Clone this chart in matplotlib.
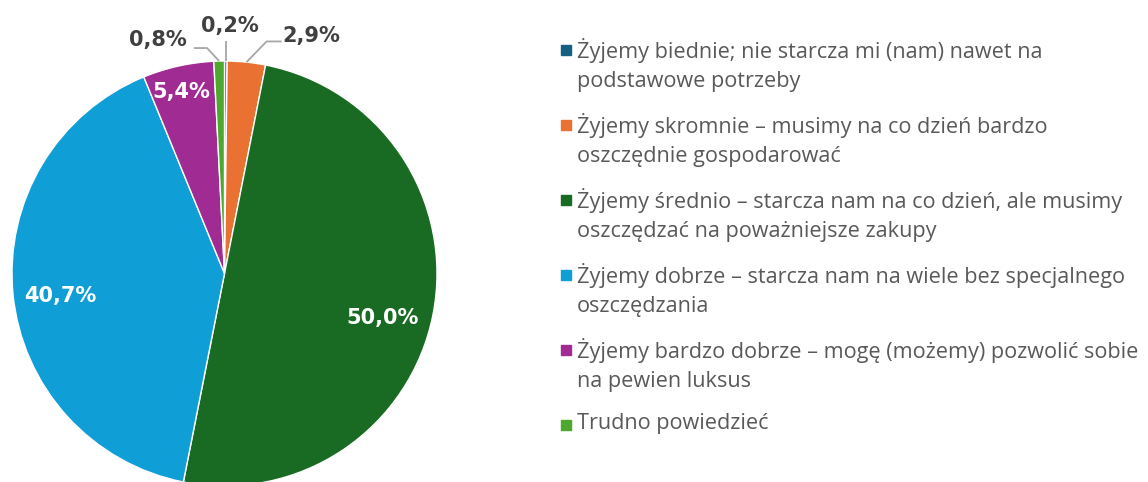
import numpy as np
import matplotlib
matplotlib.use('Agg')
import matplotlib.pyplot as plt
from matplotlib.patches import Rectangle

labels = [
    'Żyjemy biednie; nie starcza mi (nam) nawet na\npodstawowe potrzeby',
    'Żyjemy skromnie – musimy na co dzień bardzo\noszczędnie gospodarować',
    'Żyjemy średnio – starcza nam na co dzień, ale musimy\noszczędzać na poważniejsze zakupy',
    'Żyjemy dobrze – starcza nam na wiele bez specjalnego\noszczędzania',
    'Żyjemy bardzo dobrze – mogę (możemy) pozwolić sobie\nna pewien luksus',
    'Trudno powiedzieć',
]
values = [0.2, 2.9, 50.0, 40.7, 5.4, 0.8]
colors = ['#156082', '#E97132', '#196B24', '#0F9ED5', '#A02B93', '#4EA72E']

fig = plt.figure(figsize=(11.48, 4.82), dpi=100)
ax = fig.add_axes([12 / 1148, (482 - 486) / 482, 425 / 1148, 425 / 482])

wedges, _ = ax.pie(values, colors=colors, startangle=90, counterclock=False,
                   wedgeprops=dict(edgecolor='white', linewidth=1))
ax.set_xlim(-1, 1)
ax.set_ylim(-1, 1)
ax.set_aspect('equal')
ax.axis('off')


def fmt(v):
    return f'{v:.1f}%'.replace('.', ',')


# inside label positions (data coords of the unit pie)
inside = {2: (0.746, -0.209), 3: (-0.774, -0.106), 4: (-0.205, 0.854)}
# outside labels: (elbow, line end, text position, ha)
outside = {
    0: (None, (0.008, 1.094), (0.024, 1.165), 'center'),
    1: ((0.198, 1.092), (0.269, 1.092), (0.272, 1.118), 'left'),
    5: ((-0.082, 1.061), (-0.144, 1.061), (-0.180, 1.099), 'right'),
}

for i, w in enumerate(wedges):
    mid = np.deg2rad((w.theta1 + w.theta2) / 2)
    if i in inside:
        x, y = inside[i]
        ax.text(x, y, fmt(values[i]),
                ha='center', va='center', color='white',
                fontsize=15, fontweight='bold', family='DejaVu Sans')
    else:
        elbow, end, tpos, ha = outside[i]
        start = (np.cos(mid), np.sin(mid))
        if elbow is None:
            pts = [start, (start[0], end[1])]
        else:
            pts = [start, elbow, end]
        xs, ys = zip(*pts)
        ax.plot(xs, ys, color='#A6A6A6', lw=1.3, clip_on=False,
                solid_capstyle='butt')
        ax.text(tpos[0], tpos[1], fmt(values[i]), ha=ha, va='center',
                color='#404040', fontsize=15, fontweight='bold',
                family='DejaVu Sans', clip_on=False)

# legend
W, H = 1148, 482
y0 = 50
step = 75
for i, (lab, c) in enumerate(zip(labels, colors)):
    yc = y0 + i * step
    fig.patches.append(Rectangle((561 / W, 1 - (yc + 5) / H), 10 / W, 10 / H,
                                 transform=fig.transFigure, color=c))
    fig.text(577 / W, 1 - (yc - 12) / H, lab, ha='left', va='top',
             color='#595959', fontsize=15.6, family='Open Sans',
             linespacing=1.5)

fig.savefig('out.png', dpi=100)
